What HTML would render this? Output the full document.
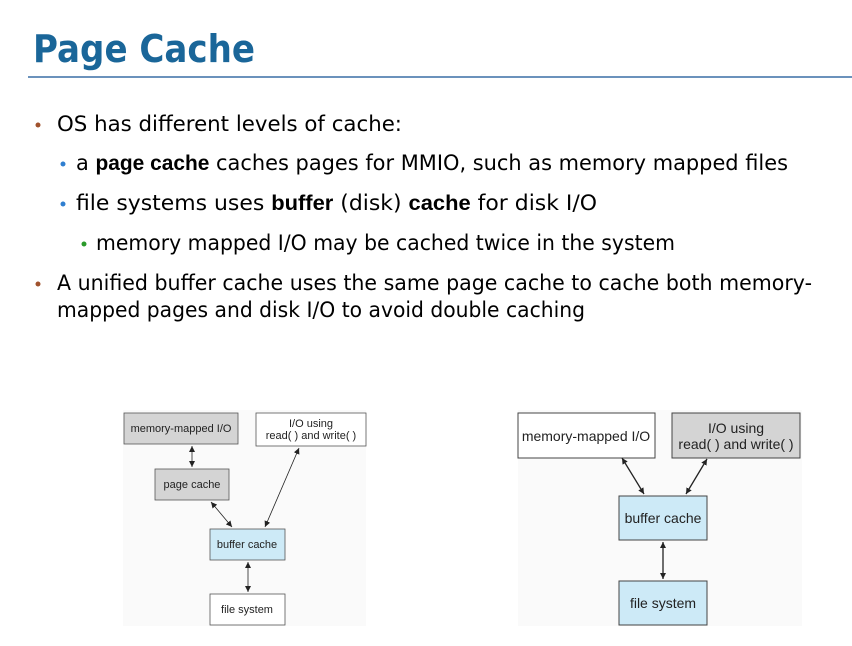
<!DOCTYPE html>
<html><head><meta charset="utf-8"><style>
html,body{margin:0;padding:0;background:#fff;}
svg{display:block}
.t{font-family:"DejaVu Sans","Liberation Sans",sans-serif;font-size:21px;fill:#000;}
.b{font-family:"Liberation Sans",sans-serif;font-weight:bold;font-size:21px;}
.d{font-family:"Liberation Sans",sans-serif;font-size:11px;fill:#222;}
.d2{font-family:"Liberation Sans",sans-serif;font-size:14px;fill:#222;}
</style></head><body>
<svg width="852" height="646" viewBox="0 0 852 646" xmlns="http://www.w3.org/2000/svg">
<defs>
<marker id="a" markerWidth="8" markerHeight="8" refX="6" refY="3" orient="auto-start-reverse" markerUnits="userSpaceOnUse"><path d="M0,0 L6,3 L0,6 z" fill="#222"/></marker>
</defs>
<text x="33" y="62" font-family="DejaVu Sans, sans-serif" font-weight="bold" font-size="38" fill="#1a6699" textLength="222" lengthAdjust="spacingAndGlyphs">Page Cache</text>
<line x1="28" y1="77" x2="852" y2="77" stroke="#3a6ea5" stroke-width="1.5"/>

<circle cx="38" cy="125" r="2.5" fill="#a0522d"/>
<text class="t" x="57" y="131" textLength="345" lengthAdjust="spacingAndGlyphs">OS has different levels of cache:</text>
<circle cx="63" cy="164" r="2.5" fill="#2f7fd0"/>
<text class="t" x="76" y="170" textLength="712" lengthAdjust="spacingAndGlyphs">a <tspan class="b">page cache</tspan> caches pages for MMIO, such as memory mapped files</text>
<circle cx="63" cy="204" r="2.5" fill="#2f7fd0"/>
<text class="t" x="76" y="210" textLength="521" lengthAdjust="spacingAndGlyphs">file systems uses <tspan class="b">buffer</tspan> (disk) <tspan class="b">cache</tspan> for disk I/O</text>
<circle cx="84" cy="244" r="2.5" fill="#2a9a2a"/>
<text class="t" x="96" y="250" textLength="579" lengthAdjust="spacingAndGlyphs">memory mapped I/O may be cached twice in the system</text>
<circle cx="38" cy="284" r="2.5" fill="#a0522d"/>
<text class="t" x="57" y="290" textLength="755" lengthAdjust="spacingAndGlyphs">A unified buffer cache uses the same page cache to cache both memory-</text>
<text class="t" x="57" y="317" textLength="528" lengthAdjust="spacingAndGlyphs">mapped pages and disk I/O to avoid double caching</text>

<rect x="123" y="410" width="243" height="216" fill="#fafafa"/>
<rect x="124" y="413" width="114" height="31" fill="#d4d4d4" stroke="#555" stroke-width="0.8"/>
<text class="d" x="181" y="432" text-anchor="middle">memory-mapped I/O</text>
<rect x="256" y="413" width="110" height="33" fill="#fff" stroke="#555" stroke-width="0.8"/>
<text class="d" x="311" y="427" text-anchor="middle">I/O using</text>
<text class="d" x="311" y="439" text-anchor="middle">read( ) and write( )</text>
<rect x="155" y="469" width="74" height="31" fill="#d4d4d4" stroke="#555" stroke-width="0.8"/>
<text class="d" x="192" y="488" text-anchor="middle">page cache</text>
<rect x="210" y="529" width="75" height="31" fill="#cdeaf7" stroke="#555" stroke-width="0.8"/>
<text class="d" x="247" y="548" text-anchor="middle">buffer cache</text>
<rect x="210" y="594" width="75" height="31" fill="#fff" stroke="#555" stroke-width="0.8"/>
<text class="d" x="247" y="613" text-anchor="middle">file system</text>
<g stroke="#222" stroke-width="0.8" marker-start="url(#a)" marker-end="url(#a)">
<line x1="192" y1="446" x2="192" y2="467"/>
<line x1="211" y1="502" x2="232" y2="527"/>
<line x1="299" y1="448" x2="265" y2="527"/>
<line x1="248" y1="562" x2="248" y2="592"/>
</g>

<rect x="518" y="410" width="284" height="216" fill="#fafafa"/>
<rect x="518" y="413" width="137" height="45" fill="#fff" stroke="#444" stroke-width="1"/>
<text class="d2" x="586" y="441" text-anchor="middle">memory-mapped I/O</text>
<rect x="672" y="413" width="128" height="45" fill="#d4d4d4" stroke="#444" stroke-width="1"/>
<text class="d2" x="736" y="433" text-anchor="middle">I/O using</text>
<text class="d2" x="736" y="449" text-anchor="middle">read( ) and write( )</text>
<rect x="619" y="496" width="88" height="44" fill="#cdeaf7" stroke="#444" stroke-width="1"/>
<text class="d2" x="663" y="523" text-anchor="middle">buffer cache</text>
<rect x="619" y="581" width="88" height="44" fill="#cdeaf7" stroke="#444" stroke-width="1"/>
<text class="d2" x="663" y="608" text-anchor="middle">file system</text>
<g stroke="#222" stroke-width="1.3" marker-start="url(#a)" marker-end="url(#a)">
<line x1="622" y1="458" x2="644" y2="494"/>
<line x1="707" y1="459" x2="686" y2="494"/>
<line x1="663" y1="542" x2="663" y2="579"/>
</g>
</svg>
</body></html>
